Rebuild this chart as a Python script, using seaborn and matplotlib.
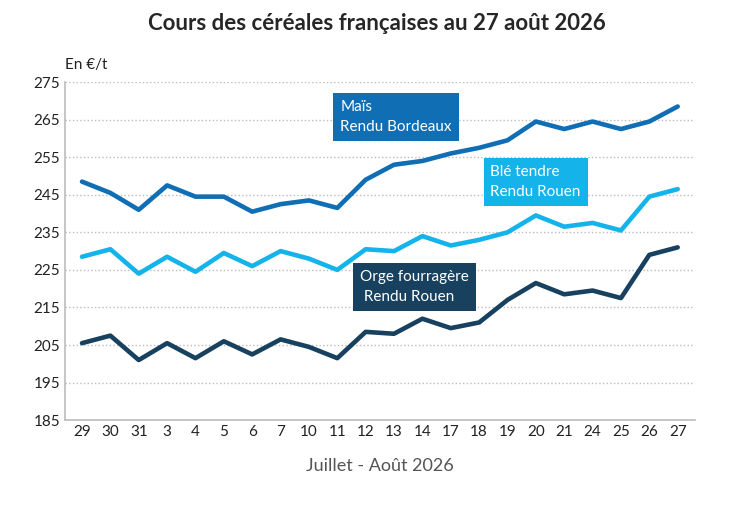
import matplotlib
matplotlib.use("Agg")
import matplotlib.pyplot as plt
import seaborn as sns
import pandas as pd

days = ["29","30","31","3","4","5","6","7","10","11","12","13","14","17","18","19","20","21","24","25","26","27"]
mais = [248.5,245.5,241,247.5,244.5,244.5,240.5,242.5,243.5,241.5,249,253,254,256,257.5,259.5,264.5,262.5,264.5,262.5,264.5,268.5]
ble = [228.5,230.5,224,228.5,224.5,229.5,226,230,228,225,230.5,230,234,231.5,233,235,239.5,236.5,237.5,235.5,244.5,246.5]
orge = [205.5,207.5,201,205.5,201.5,206,202.5,206.5,204.5,201.5,208.5,208,212,209.5,211,217,221.5,218.5,219.5,217.5,229,231]
yticks = list(range(185, 276, 10))

sns.set_theme(style="white")
plt.rcParams['font.family'] = ['Lato', 'DejaVu Sans']

fig, ax = plt.subplots(figsize=(7.47, 5.13), dpi=100)
fig.subplots_adjust(left=0.087, right=0.93, top=0.84, bottom=0.181)

x = list(range(len(days)))
cols = {"mais": "#0F6EB4", "ble": "#14B4EB", "orge": "#17415F"}
for key, vals in [("mais", mais), ("ble", ble), ("orge", orge)]:
    df = pd.DataFrame({"x": x, "y": vals})
    sns.lineplot(data=df, x="x", y="y", ax=ax, color=cols[key], linewidth=3.3)

ax.set_ylim(185, 275)
ax.set_xlim(-0.6, len(days) - 0.4)
ax.set_yticks(yticks)
ax.set_xticks(x)
ax.set_xticklabels(days)
ax.tick_params(axis='both', labelsize=11, colors="#222222", length=0)
ax.yaxis.grid(True, linestyle=":", color="#BBBBBB", linewidth=1)
for s in ["top", "right"]:
    ax.spines[s].set_visible(False)
ax.spines["left"].set_color("#BFBFBF")
ax.spines["bottom"].set_color("#BFBFBF")
ax.set_xlabel("Juillet - Août 2026", fontsize=13, color="#555555", labelpad=14)
ax.set_ylabel("")
ax.text(-0.6, 278.5, "En €/t", fontsize=11, color="#222222", ha="left")
fig.suptitle("Cours des céréales françaises au 27 août 2026", fontsize=16, fontweight="bold", x=0.505, y=0.975)

def label(xp, yp, txt, c):
    ax.text(xp, yp, txt, fontsize=11, color="white", ha="left", va="center", linespacing=1.6,
            bbox=dict(boxstyle="square,pad=0.45", fc=c, ec="none"))

label(9.1, 265.7, "Maïs\nRendu Bordeaux", cols["mais"])
label(14.4, 248.4, "Blé tendre\nRendu Rouen", cols["ble"])
label(9.8, 220.4, "Orge fourragère\n Rendu Rouen", cols["orge"])

fig.savefig("out.png", dpi=100)
